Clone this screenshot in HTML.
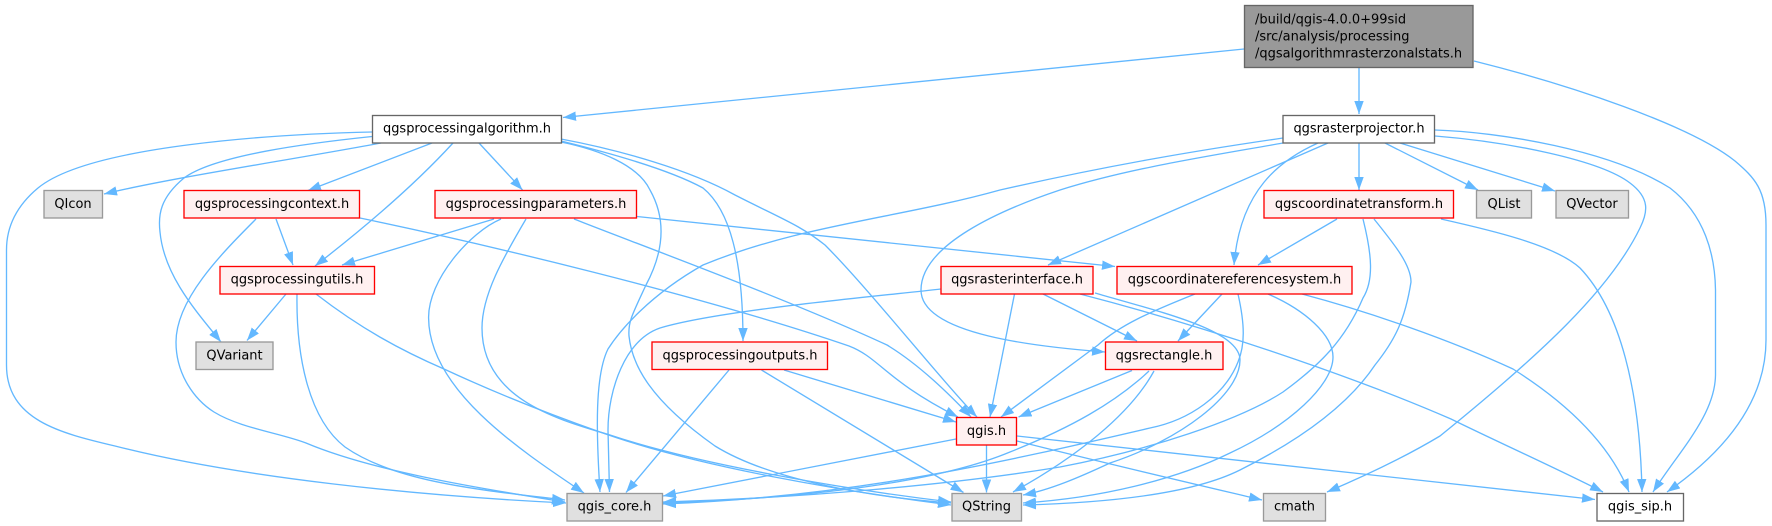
<!DOCTYPE html>
<html><head><meta charset="utf-8"><title>qgsalgorithmrasterzonalstats.h</title>
<style>html,body{margin:0;padding:0;background:#fff}svg{display:block}
text{font-family:"DejaVu Sans",sans-serif;font-size:12.97px;fill:#000}
.c{text-anchor:middle}</style></head><body>
<svg xmlns="http://www.w3.org/2000/svg" width="1772" height="526" viewBox="0 0 1772 526">
<defs><marker id="a" markerUnits="userSpaceOnUse" markerWidth="16" markerHeight="12" refX="13" refY="5" orient="auto"><path d="M0,0.3L13,5L0,9.7Z" fill="#63b8ff"/></marker></defs>
<g fill="none" stroke="#63b8ff" stroke-width="1.33" marker-end="url(#a)">
<path d="M1244,49L563,117.5"/>
<path d="M1359,67L1359,114"/>
<path d="M1474,61C1570,85 1690,125 1735,161C1755,178 1766,190 1766,225L1766,340C1766,405 1720,455 1667,492"/>
<path d="M372,132C280,134 90,145 38,188C14,208 6.5,230 6.5,250L6.5,365C6.5,420 60,433 115,446C240,478 420,496 566,503"/>
<path d="M372,136.5C310,143 215,155 184,178C160,198 158,215 160,232C164,275 195,310 221,342"/>
<path d="M381,143C290,160 170,178 104,194"/>
<path d="M432,143L308,190.5"/>
<path d="M453,143C410,190 355,235 315,266"/>
<path d="M479,143L522.5,190"/>
<path d="M561,139C620,150 690,170 735,195C780,218 800,225 825,245C870,290 945,385 977,417"/>
<path d="M561,142C600,150 638,165 650,190C668,222 662,255 646,285C632,315 628,322 629,336C632,365 650,400 715,446C770,480 870,497 951,503"/>
<path d="M561,141C610,153 670,170 703,188C730,210 743,260 743,341"/>
<path d="M494,219L342,265"/>
<path d="M501,219C470,232 428,280 428.6,318C429,390 520,450 584,493"/>
<path d="M526,219C503,258 482,295 482,328C482,400 560,420 610,435C700,465 850,490 951,502"/>
<path d="M316,294C360,328 400,350 444,369C500,395 560,418 600,432C700,468 850,492 951,505"/>
<path d="M574,219C640,245 790,300 887,345C920,365 950,395 971,417"/>
<path d="M637,216.5L1115,266.5"/>
<path d="M276,219L293,265"/>
<path d="M256,219C220,255 176,300 176,342C176,375 195,400 214,412C240,428 280,433 306,443C370,470 470,487 565,502"/>
<path d="M360,218C480,243 700,295 849,346C880,358 885,380 958,417"/>
<path d="M286,294L247,340.5"/>
<path d="M297,294C296,360 310,420 345,447C395,482 480,490 565,500"/>
<path d="M729,370L626,492.5"/>
<path d="M761.5,370L963.5,492.5"/>
<path d="M784,370L956,422"/>
<path d="M956,439L663,496"/>
<path d="M986.5,445.5L986.5,492.5"/>
<path d="M1017,436L1595,499.5"/>
<path d="M1017,441C1100,462 1190,483 1262,500"/>
<path d="M1132,370.5L1018.5,417"/>
<path d="M1149,371C1115,403 1070,428 1010,452C950,477 840,497 663,503"/>
<path d="M1154,371C1130,415 1075,458 1013,492"/>
<path d="M1043,294L1137,341"/>
<path d="M1222,294L1178,341"/>
<path d="M1195,294C1150,312 1120,325 1098,345L1001,417"/>
<path d="M1283,143C1210,156 1130,168 1060,190C1000,210 921,245 921,290C921,335 1040,347 1105,352"/>
<path d="M1283,138C1200,150 1110,165 1000,190C900,218 800,225 703,265C650,295 620,330 608,349C595,375 596,430 600,492"/>
<path d="M941,289C880,296 720,310 660,328C625,340 608,390 608,430L609.5,492"/>
<path d="M1014.5,294L990,417"/>
<path d="M1095,293C1160,312 1240,330 1240,360C1240,395 1180,440 1110,463C1080,477 1050,490 1023,495"/>
<path d="M1080,294C1200,325 1350,375 1451,419C1500,443 1560,470 1603,492"/>
<path d="M1238,294C1245,325 1245,345 1238,362C1225,395 1190,420 1150,428C1000,463 850,497 663,504"/>
<path d="M1268,294C1305,310 1333,335 1333,357C1333,385 1290,425 1230,453C1175,480 1100,498 1023,503"/>
<path d="M1374,219C1395,245 1411,265 1411,282C1405,320 1395,340 1375,365C1345,410 1290,445 1240,470C1190,495 1100,503 1023,505"/>
<path d="M1302,294C1370,312 1450,340 1513,369C1570,405 1610,445 1629,492"/>
<path d="M1337,219L1258,265"/>
<path d="M1363,219C1372,255 1374,280 1363,298C1345,340 1320,365 1283,392C1240,420 1150,450 1060,467C950,485 800,498 663,502"/>
<path d="M1441,219C1490,230 1555,245 1580,268C1620,310 1640,390 1642,492"/>
<path d="M1318,143C1280,160 1240,190 1234,265"/>
<path d="M1328,143L1048,265"/>
<path d="M1359,143L1359,190"/>
<path d="M1385,143L1478,190"/>
<path d="M1400,143L1555,191"/>
<path d="M1435,130C1500,132 1610,150 1670,188C1705,215 1715,255 1715.5,290L1715.5,375C1715,415 1680,450 1653,492"/>
<path d="M1435,136C1510,142 1600,160 1630,183C1650,198 1648,212 1640,228C1610,290 1540,355 1440,436C1400,460 1360,478 1327,492"/>
</g>
<g stroke-width="1.33">
<rect x="1244.5" y="5.5" width="228.5" height="62" fill="#999" stroke="#666"/>
<g fill="#fff" stroke="#666">
<rect x="372.5" y="115.5" width="189" height="27.5"/>
<rect x="1283" y="115.5" width="151.5" height="27.5"/>
<rect x="1597" y="493.5" width="86.5" height="27.5"/>
</g>
<g fill="#fff0f0" stroke="#f00">
<rect x="184" y="190.5" width="175.5" height="27.5"/>
<rect x="435" y="190.5" width="201.5" height="27.5"/>
<rect x="1264" y="190.5" width="189.5" height="27.5"/>
<rect x="220" y="266.5" width="154.5" height="27.5"/>
<rect x="941" y="266.5" width="152" height="27.5"/>
<rect x="1117" y="266.5" width="235" height="27.5"/>
<rect x="652" y="342" width="175.5" height="27.5"/>
<rect x="1105.5" y="342" width="117.5" height="27.5"/>
<rect x="956.5" y="417.5" width="60" height="27.5"/>
</g>
<g fill="#e0e0e0" stroke="#999">
<rect x="44" y="190.5" width="58.5" height="27.5"/>
<rect x="1476.5" y="190.5" width="55" height="27.5"/>
<rect x="1556" y="190.5" width="72.5" height="27.5"/>
<rect x="196" y="342" width="77" height="27.5"/>
<rect x="567" y="493.5" width="95.5" height="27.5"/>
<rect x="952" y="493.5" width="69.5" height="27.5"/>
<rect x="1263.5" y="493.5" width="62" height="27.5"/>
</g>
</g>
<text x="1255" y="23.5">/build/qgis-4.0.0+99sid</text>
<text x="1255" y="40.5">/src/analysis/processing</text>
<text x="1255" y="57.5">/qgsalgorithmrasterzonalstats.h</text>
<text class="c" x="467" y="132.5">qgsprocessingalgorithm.h</text>
<text class="c" x="1359" y="132.5">qgsrasterprojector.h</text>
<text class="c" x="73" y="208">QIcon</text>
<text class="c" x="272" y="208">qgsprocessingcontext.h</text>
<text class="c" x="536" y="208">qgsprocessingparameters.h</text>
<text class="c" x="1359" y="208">qgscoordinatetransform.h</text>
<text class="c" x="1504" y="208">QList</text>
<text class="c" x="1592" y="208">QVector</text>
<text class="c" x="297" y="283.5">qgsprocessingutils.h</text>
<text class="c" x="1017" y="283.5">qgsrasterinterface.h</text>
<text class="c" x="1234.5" y="283.5">qgscoordinatereferencesystem.h</text>
<text class="c" x="234.5" y="359.5">QVariant</text>
<text class="c" x="740" y="359.5">qgsprocessingoutputs.h</text>
<text class="c" x="1164" y="359.5">qgsrectangle.h</text>
<text class="c" x="986.5" y="435">qgis.h</text>
<text class="c" x="614.5" y="510.5">qgis_core.h</text>
<text class="c" x="986.5" y="510.5">QString</text>
<text class="c" x="1294.5" y="510.5">cmath</text>
<text class="c" x="1640" y="510.5">qgis_sip.h</text>
</svg>
</body></html>
